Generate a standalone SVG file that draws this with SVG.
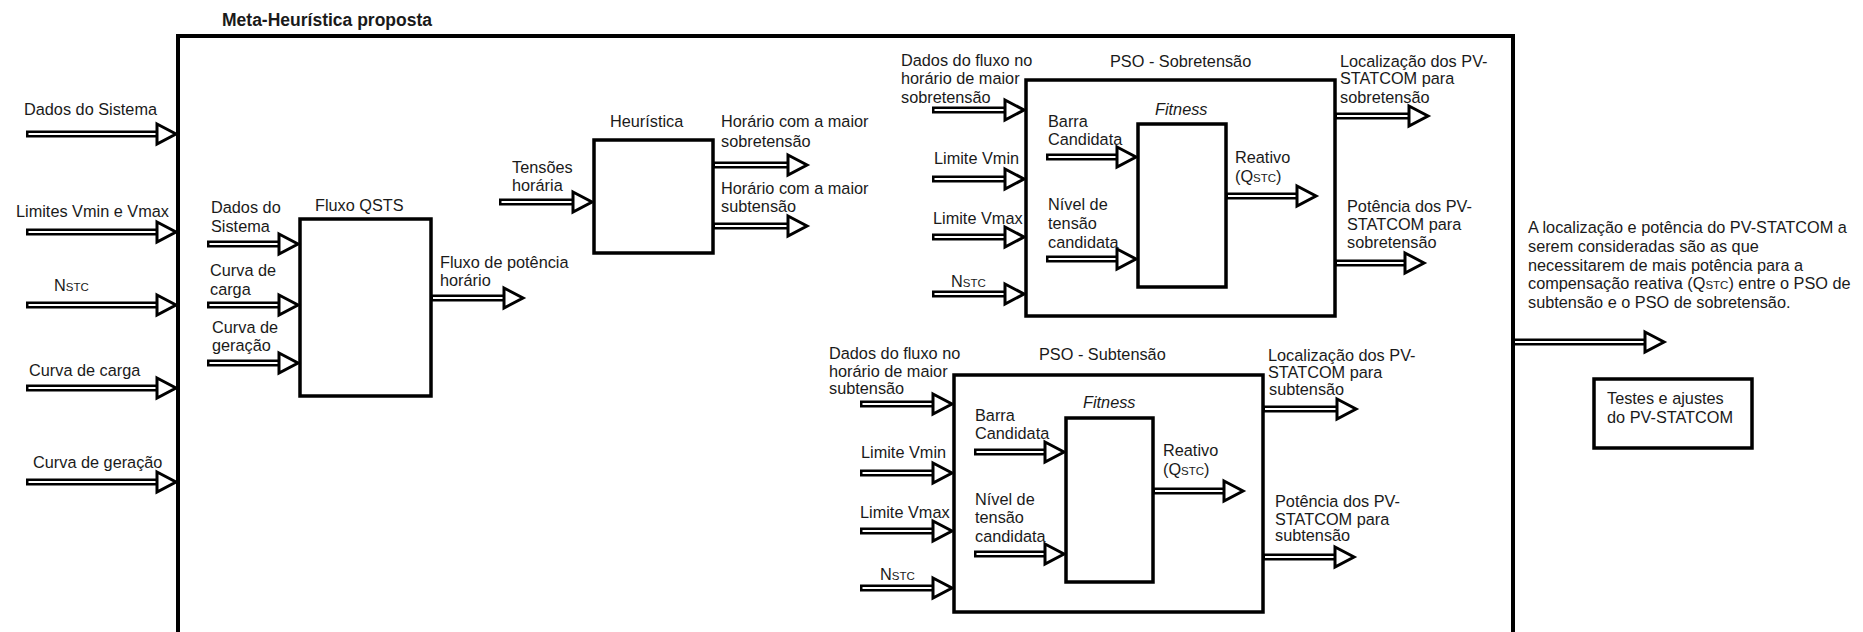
<svg xmlns="http://www.w3.org/2000/svg" width="1863" height="632" viewBox="0 0 1863 632">
<style>
text{font-family:"Liberation Sans",Arial,sans-serif;font-size:16.3px;fill:#1a1a1a}
.title{font-weight:bold;font-size:17.5px}
.it{font-style:italic}
.sub{font-size:11.5px}
.box{fill:#fff;stroke:#000;stroke-width:3.5}
.outer{fill:#fff;stroke:#000;stroke-width:4}
.sb{fill:none;stroke:#000;stroke-width:7}
.sw{fill:none;stroke:#fff;stroke-width:2}
.hd{fill:#fff;stroke:#000;stroke-width:3;stroke-linejoin:miter}
</style>
<rect width="1863" height="632" fill="#fff"/>

<g id="meta">
<rect class="outer" x="178" y="36" width="1335" height="640"/>
<text class="title" x="222" y="26">Meta-Heurística proposta</text>
</g>

<g id="fluxo-qsts">
<rect class="box" x="300" y="219" width="131" height="177"/>
<text x="315" y="211">Fluxo QSTS</text>
</g>

<g id="heuristica">
<rect class="box" x="594" y="140" width="119" height="113"/>
<text x="610" y="127">Heurística</text>
</g>

<g id="pso-sobretensao">
<rect class="box" x="1026" y="80" width="309" height="236"/>
<text x="1110" y="67">PSO - Sobretensão</text>
</g>

<g id="fitness-sobretensao">
<rect class="box" x="1138" y="124" width="88" height="163"/>
<text class="it" x="1155" y="115">Fitness</text>
</g>

<g id="pso-subtensao">
<rect class="box" x="954" y="375" width="309" height="237"/>
<text x="1039" y="360">PSO - Subtensão</text>
</g>

<g id="fitness-subtensao">
<rect class="box" x="1066" y="418" width="87" height="164"/>
<text class="it" x="1083" y="408">Fitness</text>
</g>

<g id="testes">
<rect class="box" x="1594" y="379" width="158" height="69"/>
<text x="1607" y="404">Testes e ajustes</text>
<text x="1607" y="423">do PV-STATCOM</text>
</g>

<g id="nota">
<text x="1528" y="233">A localização e potência do PV-STATCOM a</text>
<text x="1528" y="252">serem consideradas são as que</text>
<text x="1528" y="271">necessitarem de mais potência para a</text>
<text x="1528" y="289">compensação reativa (Q<tspan class="sub">STC</tspan>) entre o PSO de</text>
<text x="1528" y="308">subtensão e o PSO de sobretensão.</text>
</g>

<g id="connectors">
<path class="sb" d="M26 134H157"/><path class="sw" d="M28.5 134H157"/><path class="hd" d="M157 124L176 134L157 144Z"/>
<path class="sb" d="M26 232H157"/><path class="sw" d="M28.5 232H157"/><path class="hd" d="M157 222L176 232L157 242Z"/>
<path class="sb" d="M26 305H157"/><path class="sw" d="M28.5 305H157"/><path class="hd" d="M157 295L176 305L157 315Z"/>
<path class="sb" d="M26 388H157"/><path class="sw" d="M28.5 388H157"/><path class="hd" d="M157 378L176 388L157 398Z"/>
<path class="sb" d="M26 482H157"/><path class="sw" d="M28.5 482H157"/><path class="hd" d="M157 472L176 482L157 492Z"/>
<path class="sb" d="M207 244H279"/><path class="sw" d="M209.5 244H279"/><path class="hd" d="M279 234L298 244L279 254Z"/>
<path class="sb" d="M207 305H279"/><path class="sw" d="M209.5 305H279"/><path class="hd" d="M279 295L298 305L279 315Z"/>
<path class="sb" d="M207 363H279"/><path class="sw" d="M209.5 363H279"/><path class="hd" d="M279 353L298 363L279 373Z"/>
<path class="sb" d="M431 298H504"/><path class="sw" d="M433 298H504"/><path class="hd" d="M504 288L523 298L504 308Z"/>
<path class="sb" d="M499 202H573"/><path class="sw" d="M501.5 202H573"/><path class="hd" d="M573 192L592 202L573 212Z"/>
<path class="sb" d="M713 165H788"/><path class="sw" d="M715 165H788"/><path class="hd" d="M788 155L807 165L788 175Z"/>
<path class="sb" d="M713 226H788"/><path class="sw" d="M715 226H788"/><path class="hd" d="M788 216L807 226L788 236Z"/>
<path class="sb" d="M932 110H1005"/><path class="sw" d="M934.5 110H1005"/><path class="hd" d="M1005 100L1024 110L1005 120Z"/>
<path class="sb" d="M932 179H1005"/><path class="sw" d="M934.5 179H1005"/><path class="hd" d="M1005 169L1024 179L1005 189Z"/>
<path class="sb" d="M932 237H1005"/><path class="sw" d="M934.5 237H1005"/><path class="hd" d="M1005 227L1024 237L1005 247Z"/>
<path class="sb" d="M932 294H1005"/><path class="sw" d="M934.5 294H1005"/><path class="hd" d="M1005 284L1024 294L1005 304Z"/>
<path class="sb" d="M1046 157H1117"/><path class="sw" d="M1048.5 157H1117"/><path class="hd" d="M1117 147L1136 157L1117 167Z"/>
<path class="sb" d="M1046 259H1117"/><path class="sw" d="M1048.5 259H1117"/><path class="hd" d="M1117 249L1136 259L1117 269Z"/>
<path class="sb" d="M1226 196H1297"/><path class="sw" d="M1228 196H1297"/><path class="hd" d="M1297 186L1316 196L1297 206Z"/>
<path class="sb" d="M1335 116H1409"/><path class="sw" d="M1337 116H1409"/><path class="hd" d="M1409 106L1428 116L1409 126Z"/>
<path class="sb" d="M1335 263H1405"/><path class="sw" d="M1337 263H1405"/><path class="hd" d="M1405 253L1424 263L1405 273Z"/>
<path class="sb" d="M860 404H933"/><path class="sw" d="M862.5 404H933"/><path class="hd" d="M933 394L952 404L933 414Z"/>
<path class="sb" d="M860 473H933"/><path class="sw" d="M862.5 473H933"/><path class="hd" d="M933 463L952 473L933 483Z"/>
<path class="sb" d="M860 531H933"/><path class="sw" d="M862.5 531H933"/><path class="hd" d="M933 521L952 531L933 541Z"/>
<path class="sb" d="M860 588H933"/><path class="sw" d="M862.5 588H933"/><path class="hd" d="M933 578L952 588L933 598Z"/>
<path class="sb" d="M974 452H1045"/><path class="sw" d="M976.5 452H1045"/><path class="hd" d="M1045 442L1064 452L1045 462Z"/>
<path class="sb" d="M974 554H1045"/><path class="sw" d="M976.5 554H1045"/><path class="hd" d="M1045 544L1064 554L1045 564Z"/>
<path class="sb" d="M1153 491H1224"/><path class="sw" d="M1155 491H1224"/><path class="hd" d="M1224 481L1243 491L1224 501Z"/>
<path class="sb" d="M1263 409H1337"/><path class="sw" d="M1265 409H1337"/><path class="hd" d="M1337 399L1356 409L1337 419Z"/>
<path class="sb" d="M1263 557H1335"/><path class="sw" d="M1265 557H1335"/><path class="hd" d="M1335 547L1354 557L1335 567Z"/>
<path class="sb" d="M1513 342H1645"/><path class="sw" d="M1515 342H1645"/><path class="hd" d="M1645 332L1664 342L1645 352Z"/>
</g>

<g id="connector-labels">
<text x="24" y="115">Dados do Sistema</text>
<text x="16" y="217">Limites Vmin e Vmax</text>
<text x="54" y="291">N<tspan class="sub">STC</tspan></text>
<text x="29" y="376">Curva de carga</text>
<text x="33" y="468">Curva de geração</text>

<text x="211" y="213">Dados do</text>
<text x="211" y="232">Sistema</text>
<text x="210" y="276">Curva de</text>
<text x="210" y="295">carga</text>
<text x="212" y="333">Curva de</text>
<text x="212" y="351">geração</text>

<text x="440" y="268">Fluxo de potência</text>
<text x="440" y="286">horário</text>

<text x="512" y="173">Tensões</text>
<text x="512" y="191">horária</text>

<text x="721" y="127">Horário com a maior</text>
<text x="721" y="147">sobretensão</text>
<text x="721" y="194">Horário com a maior</text>
<text x="721" y="212">subtensão</text>

<text x="901" y="66">Dados do fluxo no</text>
<text x="901" y="84">horário de maior</text>
<text x="901" y="103">sobretensão</text>
<text x="934" y="164">Limite Vmin</text>
<text x="933" y="224">Limite Vmax</text>
<text x="951" y="287">N<tspan class="sub">STC</tspan></text>

<text x="1048" y="127">Barra</text>
<text x="1048" y="145">Candidata</text>
<text x="1048" y="210">Nível de</text>
<text x="1048" y="229">tensão</text>
<text x="1048" y="248">candidata</text>
<text x="1235" y="163">Reativo</text>
<text x="1235" y="182">(Q<tspan class="sub">STC</tspan>)</text>

<text x="1340" y="67">Localização dos PV-</text>
<text x="1340" y="84">STATCOM para</text>
<text x="1340" y="103">sobretensão</text>
<text x="1347" y="212">Potência dos PV-</text>
<text x="1347" y="230">STATCOM para</text>
<text x="1347" y="248">sobretensão</text>

<text x="829" y="359">Dados do fluxo no</text>
<text x="829" y="377">horário de maior</text>
<text x="829" y="394">subtensão</text>
<text x="861" y="458">Limite Vmin</text>
<text x="860" y="518">Limite Vmax</text>
<text x="880" y="580">N<tspan class="sub">STC</tspan></text>

<text x="975" y="421">Barra</text>
<text x="975" y="439">Candidata</text>
<text x="975" y="505">Nível de</text>
<text x="975" y="523">tensão</text>
<text x="975" y="542">candidata</text>
<text x="1163" y="456">Reativo</text>
<text x="1163" y="475">(Q<tspan class="sub">STC</tspan>)</text>

<text x="1268" y="361">Localização dos PV-</text>
<text x="1268" y="378">STATCOM para</text>
<text x="1269" y="395">subtensão</text>
<text x="1275" y="507">Potência dos PV-</text>
<text x="1275" y="525">STATCOM para</text>
<text x="1275" y="541">subtensão</text>
</g>
</svg>
